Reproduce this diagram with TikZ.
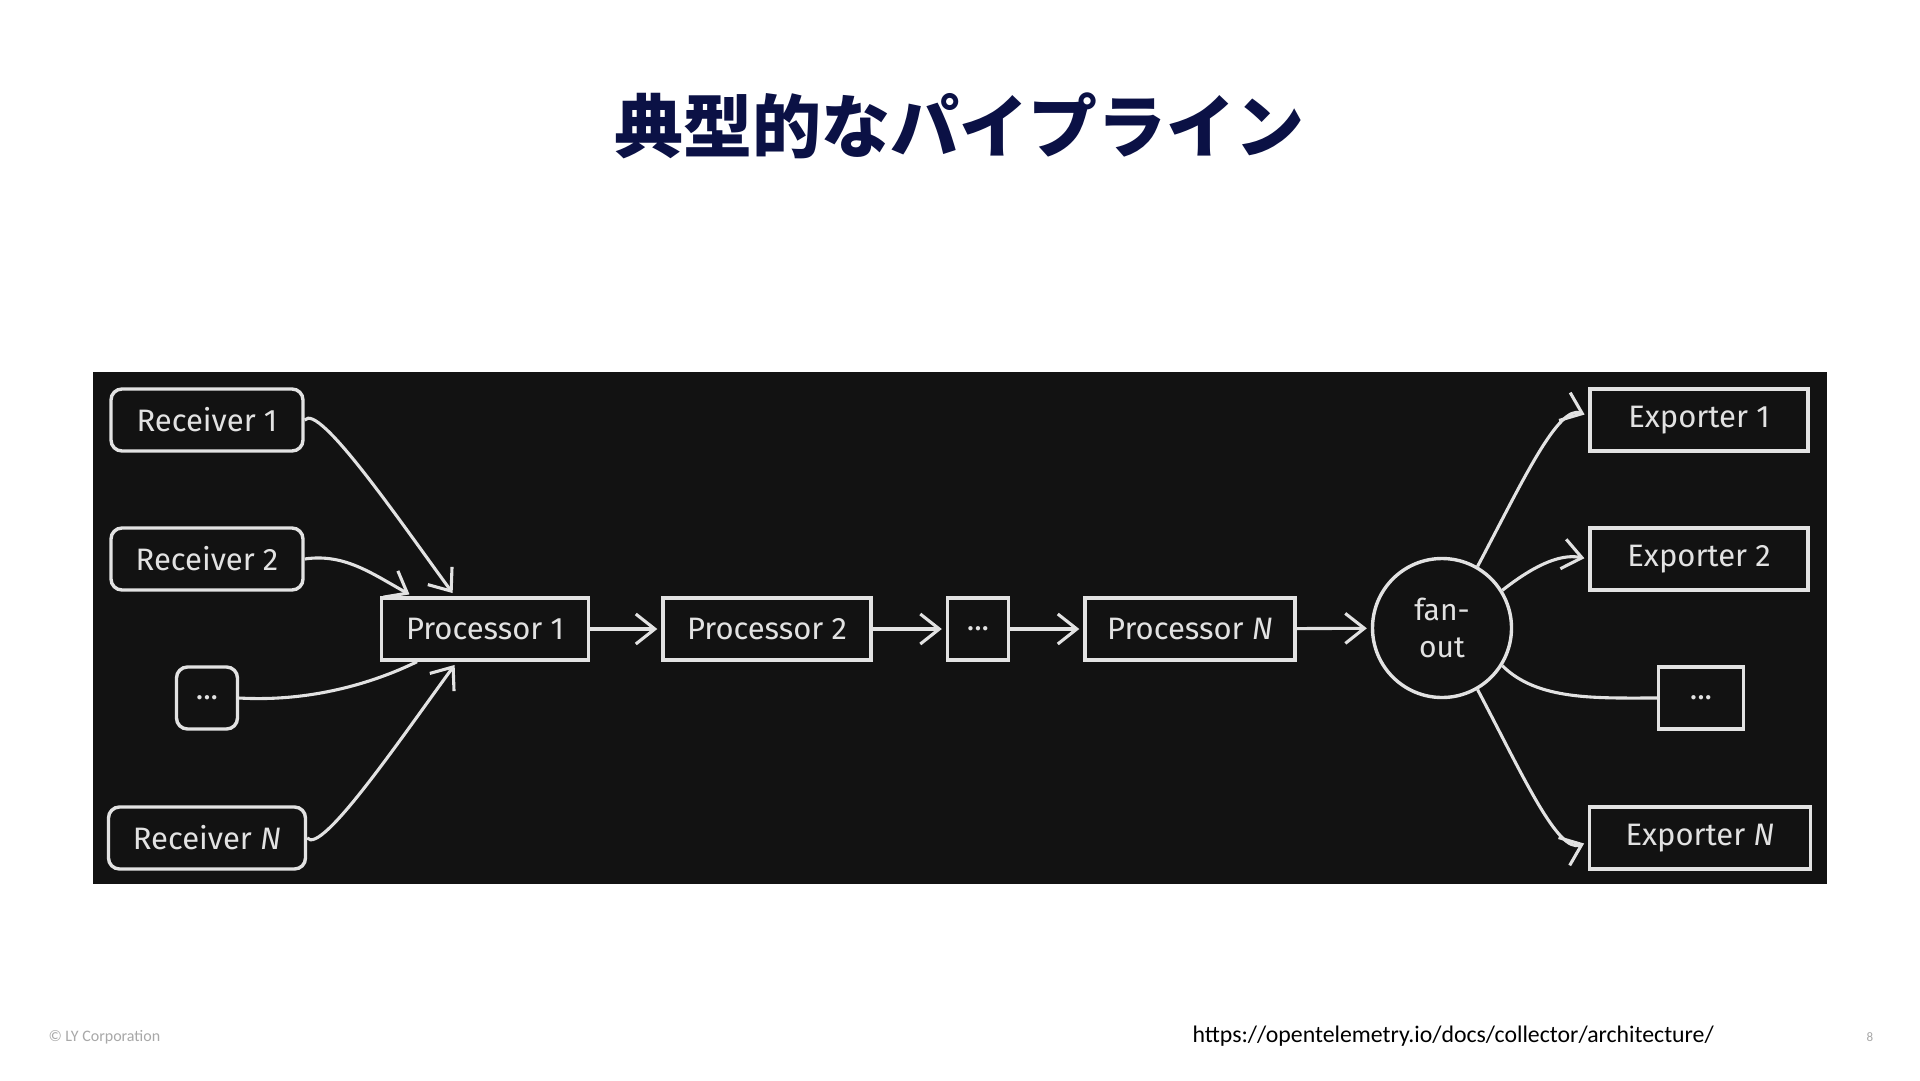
\documentclass[tikz,border=0pt]{standalone}
\usepackage{fontspec}
\setmainfont{Fira Sans}
\newfontfamily\jpfont{Noto Sans CJK JP}
\newfontfamily\footfont{Carlito}
\usetikzlibrary{arrows.meta}

\definecolor{slidebg}{HTML}{121212}
\definecolor{chalk}{HTML}{E2E2E2}
\definecolor{titleblue}{HTML}{0B1145}
\definecolor{footgray}{HTML}{A8A8A8}

\tikzset{
  box/.style={draw=chalk, line width=3.4pt, text=chalk, inner sep=0pt,
    minimum height=62pt, font=\fontsize{31}{37}\selectfont},
  rbox/.style={box, rounded corners=11pt},
  flow/.style={draw=chalk, line width=3.1pt, shorten >=4pt,
    -{Straight Barb[length=19pt,width=30pt]}},
  plain/.style={draw=chalk, line width=3.1pt},
}

\begin{document}
\begin{tikzpicture}[x=1pt,y=-1pt]
    \fill[white] (0,0) rectangle (1920,1080);
    \fill[slidebg] (93,372) rectangle (1827,884);

    \node[font=\jpfont\bfseries\fontsize{69}{80}\selectfont, text=titleblue] (title) at (959,126) {典型的なパイプライン};

    % receivers
    \node[rbox, minimum width=192pt] (R1) at (207,420) {Receiver 1};
    \node[rbox, minimum width=192pt] (R2) at (207,559) {Receiver 2};
    \node[rbox, minimum width=61pt] (RD) at (207,698) {...};
    \node[rbox, minimum width=197pt] (RN) at (207,838) {Receiver \textit{N}};

    % processors
    \node[box, minimum width=207pt] (P1) at (485,629) {Processor 1};
    \node[box, minimum width=208pt] (P2) at (767,629) {Processor 2};
    \node[box, minimum width=61pt] (PD) at (978,629) {...};
    \node[box, minimum width=210pt] (PN) at (1190,629) {Processor \textit{N}};
    \node[box, circle, minimum size=139pt, align=center, font=\fontsize{30}{37}\selectfont] (F) at (1442,628) {fan-\\out};

    % exporters
    \node[box, minimum width=218pt] (E1) at (1699,420) {Exporter 1};
    \node[box, minimum width=218pt] (E2) at (1699,559) {Exporter 2};
    \node[box, minimum width=85pt] (ED) at (1701,698) {...};
    \node[box, minimum width=221pt] (EN) at (1700,838) {Exporter \textit{N}};

    \draw[flow] (R1.east) .. controls +(14,-18) and +(-55,-75) .. ([xshift=-30pt]P1.north);
    \draw[flow] (R2.east) .. controls +(40,-6) and +(-40,-22) .. ([xshift=-72pt]P1.north);
    \draw[plain] (RD.east) .. controls +(70,4) and +(-45,22) .. ([xshift=-68pt]P1.south);
    \draw[flow] (RN.east) .. controls +(14,18) and +(-55,75) .. ([xshift=-28pt]P1.south);

    \path[flow] (P1) edge (P2) (P2) edge (PD) (PD) edge (PN) (PN) edge (F);

    \draw[flow] (F.60) .. controls +(45,-85) and +(-30,-12) .. ([yshift=4pt]E1.west);
    \draw[flow] (F.32) .. controls +(28,-22) and +(-30,-6) .. (E2.west);
    \draw[plain] (F.-32) .. controls +(35,35) and +(-60,0) .. (ED.west);
    \draw[flow] (F.-60) .. controls +(45,85) and +(-30,12) .. ([yshift=-4pt]EN.west);

    % footer
    \node[anchor=west, text=footgray, font=\footfont\fontsize{16}{19}\selectfont] (copy) at (45,1037) {© LY Corporation};
    \node[anchor=west, font=\footfont\fontsize{23.8}{28}\selectfont] (url) at (1189,1036) {https://opentelemetry.io/docs/collector/architecture/};
    \node[text=footgray, font=\footfont\fontsize{13}{16}\selectfont] (page) at (1870,1037) {8};
\end{tikzpicture}
\end{document}
